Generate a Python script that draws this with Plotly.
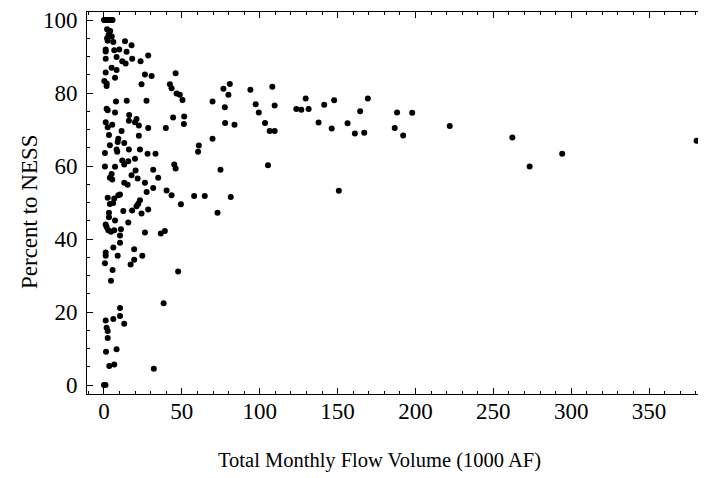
import plotly.graph_objects as go

# Total monthly flow volume (1000 AF)
flow = [
    0, 0.5, 1, 2, 3, 4, 5, 5.5,
    2, 4, 3, 5, 2,
    2.4, 6, 13.5, 17.7,
    1.1, 1.1, 6.6, 9.8, 14.5, 28.4,
    1.1, 8.1, 11.7, 13.9, 18.1, 23.5,
    4.9, 8.1, 1.1, 7.1,
    26.3, 30.6, 46,
    0.2, 1.7, 1.7, 24.1,
    42.3, 43.4, 46.6, 48.7, 50.4,
    7.7, 14.6, 27.3,
    1.7, 2.4, 7.1,
    16.2, 20.9, 16, 19.9, 22.4, 28.4, 39.7, 44.4, 51.5, 51.3,
    1.1, 2.4, 5.3, 11.3, 3.2,
    9.2, 8.8, 13, 22.4, 60.9, 60.4,
    3.8, 0.6, 8.1, 8.5, 16, 23.1, 28, 33.1,
    11.7, 15.6, 19.9, 13, 0.6, 7.1, 45.1, 46,
    20.3, 4.9, 17.7, 3.8, 5.3, 21.6, 31.6, 34.8,
    13, 15.2, 26.3, 31.6, 40.2, 27.4, 43.4, 57.9, 64.7,
    2.4, 6.6, 9.2, 10.3, 23.1,
    3.8, 5.9, 20.9, 22, 49.4,
    3.2, 3.2, 12.4, 18.1, 24.1, 28.4,
    7.1, 15.6, 1.1, 1.7, 2.8, 4.5, 6.6, 10.9, 10.3, 26.3, 36.5, 39.1,
    10.3, 6, 19.4, 1.1, 1.1, 8.8, 24.6, 0.6, 19.4, 17.1,
    5.5, 47.6, 4.5,
    38.3,
    10.3, 10.3, 6, 13, 1.1, 1.7, 2.4, 2.4,
    1.3, 8.1,
    3.4, 6.6, 32,
    0, 1,
    69.7, 76.7, 80.8, 79.9, 77.6, 77.8, 83.8, 69.7, 74.8, 81.4, 72.9,
    94, 108.1, 97.4, 99.4, 109.6, 103.4, 106.4, 109.6, 105.3,
    123.5, 126.7, 131.4, 129.5, 137.8, 141.4, 147.8, 146.2, 150.8, 156.4,
    161.1, 167.1, 164.5, 169.4, 186.7, 188.2,
    197.9, 192.1, 222, 262.2, 273.3, 294.2, 380.5,
]

# Percent to NESS
percent = [
    100, 100, 100, 100, 100, 100, 100, 100,
    97.5, 97, 96, 95.5, 95,
    94.3, 94, 94.2, 93.1,
    91.9, 91.4, 91.7, 91.9, 91.3, 90.3,
    89.4, 89.9, 88.7, 88.1, 89.4, 88.7,
    86.9, 86.3, 85.6, 84.2,
    85.1, 84.7, 85.4,
    83.3, 82.6, 81.9, 82.4,
    82.4, 81.3, 79.9, 79.5, 78.1,
    77.7, 77.9, 77.9,
    75.7, 75.3, 74.7,
    74, 72.9, 72.4, 72, 71.1, 70.4, 70.4, 73.3, 73.6, 71.5,
    72, 70.6, 71.3, 69.6, 68.5,
    67.5, 66.6, 66.3, 68.3, 65.6, 63.9,
    65.7, 63.6, 64.5, 63.9, 64.5, 64.5, 63.4, 63.4,
    61.5, 61.3, 62, 60.4, 59.9, 59.8, 60.4, 59.3,
    58.8, 57.8, 57.5, 56.8, 56.3, 56.6, 59, 56.8,
    55.4, 54.9, 55.4, 54, 53.3, 52.9, 52, 51.8, 51.8,
    51.3, 51.1, 52, 52.2, 50.6,
    49.6, 49.9, 49, 49.7, 49.5,
    47.2, 46, 47.7, 47.8, 47, 48.1,
    45.1, 44.5, 44, 43.3, 42.4, 42, 42.4, 42.7, 41, 41.8, 41.5, 42.2,
    39, 37.7, 37.2, 36.3, 35.4, 35.4, 35.4, 33.4, 34.3, 33,
    31.5, 31.1, 28.6,
    22.4,
    21.1, 18.9, 18.1, 16.8, 17.7, 15.7, 14.8, 12.9,
    9.1, 9.8,
    5.2, 5.6, 4.5,
    0, 0,
    77.7, 81.2, 82.5, 79.5, 76.1, 71.8, 71.3, 67.5, 59, 51.5, 47.2,
    80.9, 81.7, 76.9, 74.7, 76.6, 71.8, 69.6, 69.6, 60.2,
    75.6, 75.4, 75.6, 78.5, 71.9, 76.8, 78, 70.3, 53.2, 71.7,
    68.9, 69.1, 75, 78.5, 70.4, 74.7,
    74.6, 68.4, 71, 67.8, 59.9, 63.4, 66.9,
]

x_ticks = [0, 50, 100, 150, 200, 250, 300, 350]
y_ticks = [0, 20, 40, 60, 80, 100]
x_title = "Total Monthly Flow Volume (1000 AF)"
y_title = "Percent to NESS"

FONT = "Liberation Serif, Times New Roman, serif"

fig = go.Figure()
fig.add_trace(go.Scatter(
    x=flow, y=percent, mode="markers",
    marker=dict(color="black", size=6, line=dict(width=0)),
    showlegend=False, hoverinfo="skip", cliponaxis=True,
))

axis_common = dict(
    showgrid=False, zeroline=False,
    showline=True, linecolor="black", linewidth=1, mirror="ticks",
    ticks="inside", ticklen=6, tickwidth=1, tickcolor="black",
    tickfont=dict(family=FONT, size=23, color="black"),
    ticklabeloverflow="allow",
)

fig.update_xaxes(
    **axis_common,
    range=[-10.9, 385.9],
    tickvals=x_ticks, ticktext=[str(v) for v in x_ticks],
    ticklabelstandoff=-4,
    minor=dict(dtick=10, tick0=0, ticks="inside", ticklen=3, tickcolor="black", showgrid=False),
)
fig.update_yaxes(
    **axis_common,
    range=[-2.45, 102.2],
    tickvals=y_ticks, ticktext=[str(v) for v in y_ticks],
    ticklabelstandoff=4,
    minor=dict(dtick=5, tick0=0, ticks="inside", ticklen=3, tickcolor="black", showgrid=False),
)

fig.add_annotation(
    text=x_title, xref="paper", yref="paper", x=0.4733, y=-0.1745,
    xanchor="center", yanchor="middle", showarrow=False,
    font=dict(family=FONT, size=20.5, color="black"),
)
fig.add_annotation(
    text=y_title, xref="paper", yref="paper", x=-0.0921, y=0.4766,
    xanchor="center", yanchor="middle", showarrow=False, textangle=-90,
    font=dict(family=FONT, size=23, color="black"),
)

# page body has an 8px margin, so the figure is sized to fill the rest of the window
fig.update_layout(
    width=698, height=470,
    margin=dict(l=79, r=0, t=2, b=84),
    paper_bgcolor="white", plot_bgcolor="white",
)

fig.write_html("out.html")
